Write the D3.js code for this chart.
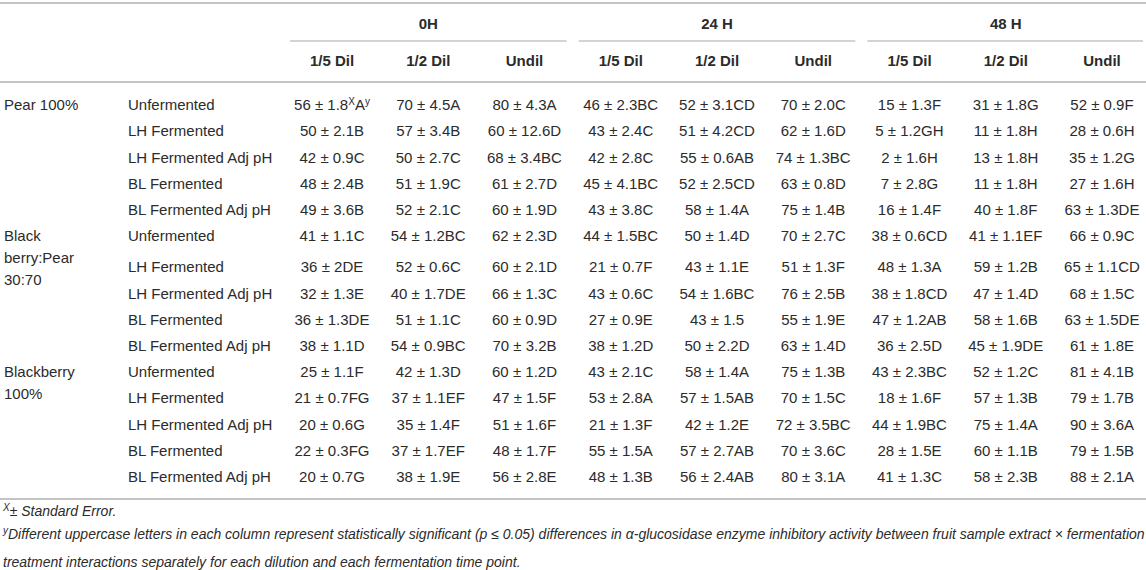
<!DOCTYPE html>
<html>
<head>
<meta charset="utf-8">
<script src="https://cdn.jsdelivr.net/npm/d3@7"></script>
<style>
  body { margin: 0; background: #fff; }
  svg { display: block; font-family: "Liberation Sans", Arial, sans-serif; }
</style>
</head>
<body>
<svg id="tabela" width="1146" height="570"></svg>
<script>
// Dados da tabela
const times = ["0H", "24 H", "48 H"];
const dilutions = ["1/5 Dil", "1/2 Dil", "Undil"];
const treatments = ["Unfermented", "LH Fermented", "LH Fermented Adj pH", "BL Fermented", "BL Fermented Adj pH"];
const groupLabels = [["Pear 100%"], ["Black", "berry:Pear", "30:70"], ["Blackberry", "100%"]];

// {X} e {y} = sobrescritos
const pearCells = [
  ["56 ± 1.8{X}A{y}", "70 ± 4.5A", "80 ± 4.3A", "46 ± 2.3BC", "52 ± 3.1CD", "70 ± 2.0C", "15 ± 1.3F", "31 ± 1.8G", "52 ± 0.9F"],
  ["50 ± 2.1B", "57 ± 3.4B", "60 ± 12.6D", "43 ± 2.4C", "51 ± 4.2CD", "62 ± 1.6D", "5 ± 1.2GH", "11 ± 1.8H", "28 ± 0.6H"],
  ["42 ± 0.9C", "50 ± 2.7C", "68 ± 3.4BC", "42 ± 2.8C", "55 ± 0.6AB", "74 ± 1.3BC", "2 ± 1.6H", "13 ± 1.8H", "35 ± 1.2G"],
  ["48 ± 2.4B", "51 ± 1.9C", "61 ± 2.7D", "45 ± 4.1BC", "52 ± 2.5CD", "63 ± 0.8D", "7 ± 2.8G", "11 ± 1.8H", "27 ± 1.6H"],
  ["49 ± 3.6B", "52 ± 2.1C", "60 ± 1.9D", "43 ± 3.8C", "58 ± 1.4A", "75 ± 1.4B", "16 ± 1.4F", "40 ± 1.8F", "63 ± 1.3DE"]
];
const blendCells = [
  ["41 ± 1.1C", "54 ± 1.2BC", "62 ± 2.3D", "44 ± 1.5BC", "50 ± 1.4D", "70 ± 2.7C", "38 ± 0.6CD", "41 ± 1.1EF", "66 ± 0.9C"],
  ["36 ± 2DE", "52 ± 0.6C", "60 ± 2.1D", "21 ± 0.7F", "43 ± 1.1E", "51 ± 1.3F", "48 ± 1.3A", "59 ± 1.2B", "65 ± 1.1CD"],
  ["32 ± 1.3E", "40 ± 1.7DE", "66 ± 1.3C", "43 ± 0.6C", "54 ± 1.6BC", "76 ± 2.5B", "38 ± 1.8CD", "47 ± 1.4D", "68 ± 1.5C"],
  ["36 ± 1.3DE", "51 ± 1.1C", "60 ± 0.9D", "27 ± 0.9E", "43 ± 1.5", "55 ± 1.9E", "47 ± 1.2AB", "58 ± 1.6B", "63 ± 1.5DE"],
  ["38 ± 1.1D", "54 ± 0.9BC", "70 ± 3.2B", "38 ± 1.2D", "50 ± 2.2D", "63 ± 1.4D", "36 ± 2.5D", "45 ± 1.9DE", "61 ± 1.8E"]
];
const blackberryCells = [
  ["25 ± 1.1F", "42 ± 1.3D", "60 ± 1.2D", "43 ± 2.1C", "58 ± 1.4A", "75 ± 1.3B", "43 ± 2.3BC", "52 ± 1.2C", "81 ± 4.1B"],
  ["21 ± 0.7FG", "37 ± 1.1EF", "47 ± 1.5F", "53 ± 2.8A", "57 ± 1.5AB", "70 ± 1.5C", "18 ± 1.6F", "57 ± 1.3B", "79 ± 1.7B"],
  ["20 ± 0.6G", "35 ± 1.4F", "51 ± 1.6F", "21 ± 1.3F", "42 ± 1.2E", "72 ± 3.5BC", "44 ± 1.9BC", "75 ± 1.4A", "90 ± 3.6A"],
  ["22 ± 0.3FG", "37 ± 1.7EF", "48 ± 1.7F", "55 ± 1.5A", "57 ± 2.7AB", "70 ± 3.6C", "28 ± 1.5E", "60 ± 1.1B", "79 ± 1.5B"],
  ["20 ± 0.7G", "38 ± 1.9E", "56 ± 2.8E", "48 ± 1.3B", "56 ± 2.4AB", "80 ± 3.1A", "41 ± 1.3C", "58 ± 2.3B", "88 ± 2.1A"]
];
const footnotes = [
  "{X}± Standard Error.",
  "{y}Different uppercase letters in each column represent statistically significant (p ≤ 0.05) differences in α-glucosidase enzyme inhibitory activity between fruit sample extract × fermentation",
  "treatment interactions separately for each dilution and each fermentation time point."
];

// Layout
const svg = d3.select("#tabela");
const W = 1146;
const corTexto = "#2b2b2b";
const corLinha = "#c4c4c4";
const fonte = 15;

const colunas = [];
times.forEach(t => dilutions.forEach(d => colunas.push(t + "|" + d)));
const x = d3.scalePoint().domain(colunas).range([332, 1102]);

// Linhas: posição y de cada linha de dados
const grupos = [pearCells, blendCells, blackberryCells];
const linhas = [];
let yAtual = 105;
grupos.forEach((cells, g) => {
  cells.forEach((row, r) => {
    linhas.push({ g, r, y: yAtual, cells: row });
    yAtual += 26.2;
    if (r === 0 && groupLabels[g].length > 2) yAtual += 5;
  });
});

// Texto com sobrescritos
function textoRico(sel, s, supSize) {
  const partes = s.split(/(\{[^}]*\})/).filter(p => p !== "");
  let elevado = false;
  partes.forEach(p => {
    const sup = p.startsWith("{");
    const ts = sel.append("tspan").text(sup ? p.slice(1, -1) : p);
    if (sup) {
      ts.attr("font-size", supSize).attr("dy", -5);
      elevado = true;
    } else if (elevado) {
      ts.attr("dy", 5);
      elevado = false;
    }
  });
}

function linhaH(y, x1, x2, w) {
  svg.append("line")
    .attr("x1", x1).attr("x2", x2)
    .attr("y1", y).attr("y2", y)
    .attr("stroke", corLinha)
    .attr("stroke-width", w);
}

// Regras horizontais
linhaH(3, 0, W, 2);
linhaH(82, 0, W, 2);
linhaH(499, 0, W, 2);

// Cabeçalho de tempo
times.forEach(t => {
  const x1 = x(t + "|" + dilutions[0]) - 42;
  const x2 = x(t + "|" + dilutions[2]) + 42;
  linhaH(41, x1, Math.min(x2, W - 3), 1.3);
  svg.append("text")
    .attr("x", (x1 + x2) / 2)
    .attr("y", 24)
    .attr("dy", "0.35em")
    .attr("text-anchor", "middle")
    .attr("font-size", fonte)
    .attr("font-weight", "bold")
    .attr("fill", corTexto)
    .text(t);
});

// Sub-cabeçalho de diluição
svg.selectAll("text.dil")
  .data(colunas)
  .join("text")
  .attr("class", "dil")
  .attr("x", d => x(d))
  .attr("y", 61)
  .attr("dy", "0.35em")
  .attr("text-anchor", "middle")
  .attr("font-size", fonte)
  .attr("font-weight", "bold")
  .attr("fill", corTexto)
  .text(d => d.split("|")[1]);

// Rótulos dos grupos
linhas.filter(l => l.r === 0).forEach(l => {
  groupLabels[l.g].forEach((txt, i) => {
    svg.append("text")
      .attr("x", 4)
      .attr("y", l.y + i * 22)
      .attr("dy", "0.35em")
      .attr("font-size", fonte)
      .attr("fill", corTexto)
      .text(txt);
  });
});

// Tratamentos
svg.selectAll("text.trat")
  .data(linhas)
  .join("text")
  .attr("class", "trat")
  .attr("x", 128)
  .attr("y", d => d.y)
  .attr("dy", "0.35em")
  .attr("font-size", fonte)
  .attr("fill", corTexto)
  .text(d => treatments[d.r]);

// Valores
linhas.forEach(l => {
  l.cells.forEach((c, j) => {
    const t = svg.append("text")
      .attr("x", x(colunas[j]))
      .attr("y", l.y)
      .attr("dy", "0.35em")
      .attr("text-anchor", "middle")
      .attr("font-size", fonte)
      .attr("fill", corTexto);
    textoRico(t, c, 10);
  });
});

// Notas de rodapé
footnotes.forEach((n, i) => {
  const t = svg.append("text")
    .attr("x", 3)
    .attr("y", 516 + i * 23)
    .attr("dy", "0.35em")
    .attr("font-size", 14)
    .attr("font-style", "italic")
    .attr("fill", corTexto);
  textoRico(t, n, 10);
});
</script>
</body>
</html>
